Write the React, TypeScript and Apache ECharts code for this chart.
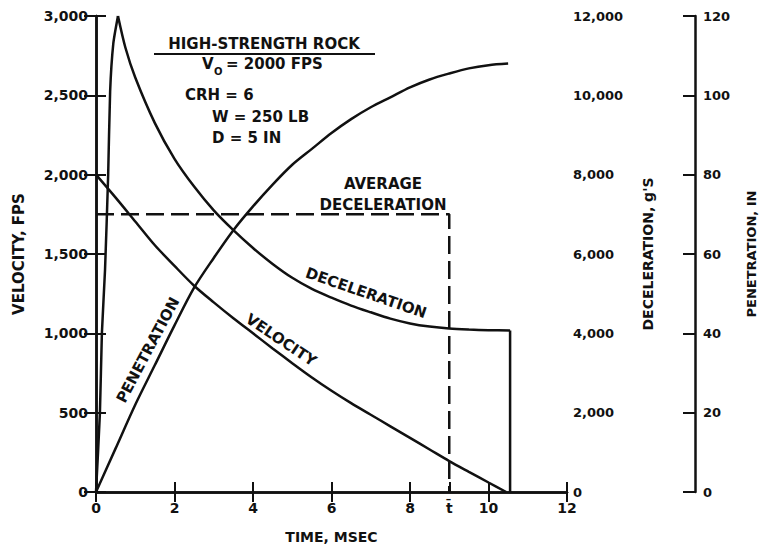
import React, { useEffect, useRef } from "react";
import * as echarts from "echarts";

// ---- data ----
const xTickValues = [0, 2, 4, 6, 8, 9, 10, 12];
const tBarValue = 9;

// Velocity, FPS (left axis)
const velocityT = [0, 0.5, 1, 1.5, 2, 2.5, 3, 3.5, 4, 4.5, 5, 5.5, 6, 6.5, 7, 7.5, 8, 8.5, 9, 9.5, 10, 10.45];
const velocity = [2000, 1855, 1705, 1555, 1425, 1300, 1195, 1095, 1000, 905, 812, 722, 638, 560, 487, 414, 341, 268, 195, 127, 60, 0];

// Deceleration, g's (right axis) — rising part, falling part, final drop
const decelRiseT = [0, 0.1, 0.15, 0.23, 0.31, 0.36, 0.44, 0.56];
const decelRise = [0, 2000, 4000, 5600, 8000, 10100, 11300, 12000];
const decelFallT = [0.56, 0.75, 1, 1.5, 2, 2.5, 3, 3.5, 4, 4.5, 5, 5.5, 6, 6.5, 7, 7.5, 8, 8.5, 9, 9.5, 10, 10.55];
const decelFall = [12000, 11200, 10450, 9300, 8400, 7700, 7100, 6600, 6150, 5750, 5400, 5120, 4900, 4700, 4530, 4370, 4250, 4170, 4120, 4095, 4080, 4070];
const decelDropT = [10.55, 10.55];
const decelDrop = [4070, 0];

// Average deceleration (dashed)
const avgDecelT = [0, 9, 9];
const avgDecel = [7000, 7000, 0];

// Penetration, in (far right axis)
const penT = [0, 0.5, 1, 1.5, 2, 2.5, 3, 3.5, 4, 4.5, 5, 5.5, 6, 6.5, 7, 7.5, 8, 8.5, 9, 9.5, 10, 10.5];
const penetration = [0, 11, 22, 32, 42, 51.5, 59, 66, 72, 77.5, 82.5, 86.5, 90.5, 94, 97, 99.5, 102, 104, 105.5, 106.8, 107.6, 108];

const zip = (a: number[], b: number[]) => a.map((v, i) => [v, b[i]]);

const FONT = '"DejaVu Sans", "Liberation Sans", sans-serif';
const INK = "#111";

const fmtComma = (v: number) => v.toLocaleString("en-US");

export default function App() {
  const ref = useRef<HTMLDivElement>(null);

  useEffect(() => {
    if (!ref.current) return;
    const chart = echarts.init(ref.current, undefined, { renderer: "svg" });

    const axisLine = { show: true, lineStyle: { color: INK, width: 2.5 } };
    const tickStyle = { color: INK, width: 2 };
    const labelStyle = { color: INK, fontFamily: FONT, fontWeight: "bold" as const, fontSize: 14 };
    const nameStyle = { color: INK, fontFamily: FONT, fontWeight: "bold" as const, fontSize: 15 };

    const lineSeries = (name: string, data: number[][], yAxisIndex: number, smooth: boolean | number, extra: any = {}) => ({
      name,
      type: "line",
      xAxisIndex: 0,
      yAxisIndex,
      data,
      showSymbol: false,
      symbol: "none",
      smooth,
      lineStyle: { color: INK, width: 2.5, ...(extra.lineStyle || {}) },
      z: 5,
      silent: true,
    });

    const txt = (x: number, y: number, text: string, opts: any = {}) => ({
      type: "text",
      x,
      y,
      rotation: opts.rotation || 0,
      style: {
        text,
        fill: INK,
        font: opts.font || `bold 15px ${FONT}`,
        textAlign: opts.align || "center",
        textVerticalAlign: "middle",
      },
      z: 10,
    });

    const option: any = {
      animation: false,
      backgroundColor: "#fff",
      grid: { left: 96, top: 16, width: 471, height: 476, outerBoundsMode: "none", containLabel: false },
      xAxis: [
        {
          type: "value",
          min: 0,
          max: 12,
          interval: 2,
          axisLine,
          axisTick: { show: true, inside: true, length: 10, customValues: xTickValues, lineStyle: tickStyle },
          axisLabel: {
            ...labelStyle,
            margin: 9,
            customValues: xTickValues,
            formatter: (v: number) => (v === tBarValue ? "t\u0304" : String(v)),
          },
          splitLine: { show: false },
          name: "TIME, MSEC",
          nameLocation: "middle",
          nameGap: 38,
          nameTextStyle: { ...nameStyle, fontSize: 14 },
        },
        {
          type: "value",
          position: "top",
          min: 0,
          max: 12,
          interval: 2,
          axisLine,
          axisTick: { show: true, inside: true, length: 10, lineStyle: tickStyle },
          axisLabel: { show: false },
          splitLine: { show: false },
        },
      ],
      yAxis: [
        {
          type: "value",
          position: "left",
          min: 0,
          max: 3000,
          interval: 500,
          axisLine,
          axisTick: { show: true, inside: true, length: 10, lineStyle: tickStyle },
          axisLabel: { ...labelStyle, margin: 8, formatter: fmtComma },
          splitLine: { show: false },
          name: "VELOCITY, FPS",
          nameLocation: "middle",
          nameRotate: 90,
          nameGap: 70,
          nameTextStyle: nameStyle,
        },
        {
          type: "value",
          position: "right",
          min: 0,
          max: 12000,
          interval: 2000,
          axisLine,
          axisTick: { show: true, inside: true, length: 12, lineStyle: tickStyle },
          axisLabel: { ...labelStyle, fontSize: 13, margin: 6, formatter: fmtComma },
          splitLine: { show: false },
          name: "DECELERATION, g'S",
          nameLocation: "middle",
          nameRotate: 90,
          nameGap: 74,
          nameTextStyle: { ...nameStyle, fontSize: 14 },
        },
        {
          type: "value",
          position: "right",
          offset: 128,
          min: 0,
          max: 120,
          interval: 20,
          axisLine,
          axisTick: { show: true, inside: true, length: 12, lineStyle: tickStyle },
          axisLabel: { ...labelStyle, fontSize: 13, margin: 8 },
          splitLine: { show: false },
          name: "PENETRATION, IN",
          nameLocation: "middle",
          nameRotate: 90,
          nameGap: 50,
          nameTextStyle: { ...nameStyle, fontSize: 13 },
        },
      ],
      series: [
        lineSeries("Velocity", zip(velocityT, velocity), 0, 0.3),
        lineSeries("Deceleration rise", zip(decelRiseT, decelRise), 1, 0.2),
        lineSeries("Deceleration", zip(decelFallT, decelFall), 1, 0.3),
        lineSeries("Deceleration drop", zip(decelDropT, decelDrop), 1, false),
        lineSeries("Average deceleration", zip(avgDecelT, avgDecel), 1, false, {
          lineStyle: { type: [18, 7], width: 2.5 },
        }),
        lineSeries("Penetration", zip(penT, penetration), 2, 0.3),
      ],
      graphic: [
        txt(264, 44, "HIGH-STRENGTH ROCK"),
        { type: "line", shape: { x1: 154, y1: 54, x2: 375, y2: 54 }, style: { stroke: INK, lineWidth: 2 }, z: 10 },
        txt(202, 64, "V", { align: "left" }),
        txt(214, 71, "O", { align: "left", font: `bold 10px ${FONT}` }),
        txt(226, 64, "= 2000 FPS", { align: "left" }),
        txt(185, 95, "CRH = 6", { align: "left" }),
        txt(212, 117, "W = 250 LB", { align: "left" }),
        txt(212, 138, "D = 5 IN", { align: "left" }),
        txt(383, 184, "AVERAGE"),
        txt(383, 205, "DECELERATION"),
        txt(148, 350, "PENETRATION", { rotation: (62 * Math.PI) / 180 }),
        txt(281, 340, "VELOCITY", { rotation: (-34 * Math.PI) / 180 }),
        txt(366, 293, "DECELERATION", { rotation: (-19 * Math.PI) / 180 }),
      ],
    };

    chart.setOption(option);
    return () => chart.dispose();
  }, []);

  return <div ref={ref} style={{ position: "absolute", left: 0, top: 0, width: 762, height: 551 }} />;
}
